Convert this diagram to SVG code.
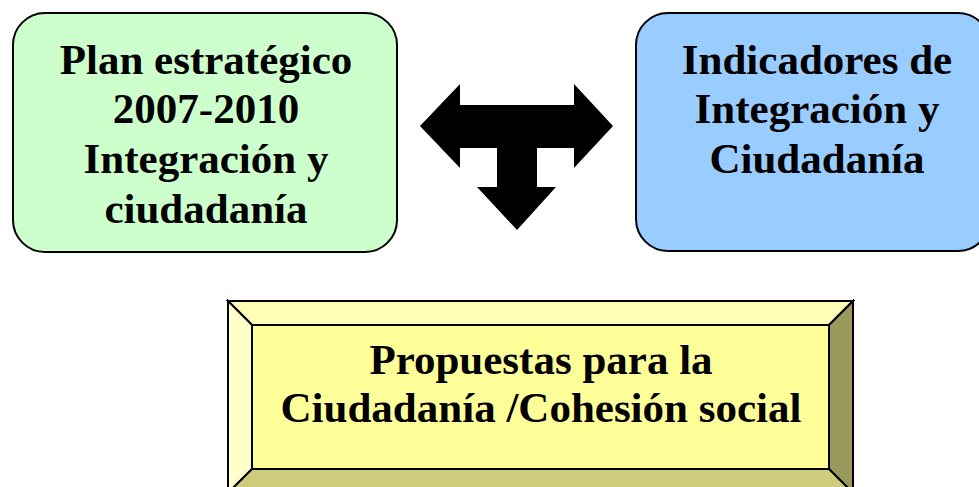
<svg xmlns="http://www.w3.org/2000/svg" width="979" height="487" viewBox="0 0 979 487">
<style>
  .box { stroke: #000; stroke-width: 2; }
  .lbl { font-family: "Liberation Serif", "Times New Roman", serif; font-weight: bold; font-size: 43px; fill: #000; text-anchor: middle; }
  .bev { stroke: #000; stroke-width: 2; stroke-linejoin: miter; }
</style>
<rect width="979" height="487" fill="#ffffff"/>
<g id="plan">
  <rect class="box" x="13" y="13" width="384" height="239" rx="32" ry="32" fill="#CCFFCC"/>
  <text class="lbl" x="206" y="74">Plan estratégico</text>
  <text class="lbl" x="206" y="123">2007-2010</text>
  <text class="lbl" x="206" y="173">Integración y</text>
  <text class="lbl" x="206" y="223">ciudadanía</text>
</g>
<g id="indicadores">
  <rect class="box" x="636" y="13" width="354" height="238" rx="32" ry="32" fill="#99CCFF"/>
  <text class="lbl" x="817" y="74">Indicadores de</text>
  <text class="lbl" x="817" y="123">Integración y</text>
  <text class="lbl" x="817" y="173">Ciudadanía</text>
</g>
<g id="propuestas">
  <polygon class="bev" points="228,301 853,301 829,325 252,325" fill="#FFFFB8"/>
  <polygon class="bev" points="228,301 252,325 252,469 228,493" fill="#FFFFCC"/>
  <polygon class="bev" points="853,301 853,493 829,469 829,325" fill="#99995C"/>
  <polygon class="bev" points="252,469 829,469 853,493 228,493" fill="#CCCC7A"/>
  <rect class="bev" x="252" y="325" width="577" height="144" fill="#FFFF99"/>
  <text class="lbl" x="541" y="374">Propuestas para la</text>
  <text class="lbl" x="541" y="422">Ciudadanía /Cohesión social</text>
</g>
<g id="connectors">
  <polygon points="420,126 460,84 460,105 574,105 574,84 613,126 574,168 574,148 537,148 537,187 556,187 517,230 477,187 497,187 497,148 460,148 460,168" fill="#000"/>
</g>
</svg>
